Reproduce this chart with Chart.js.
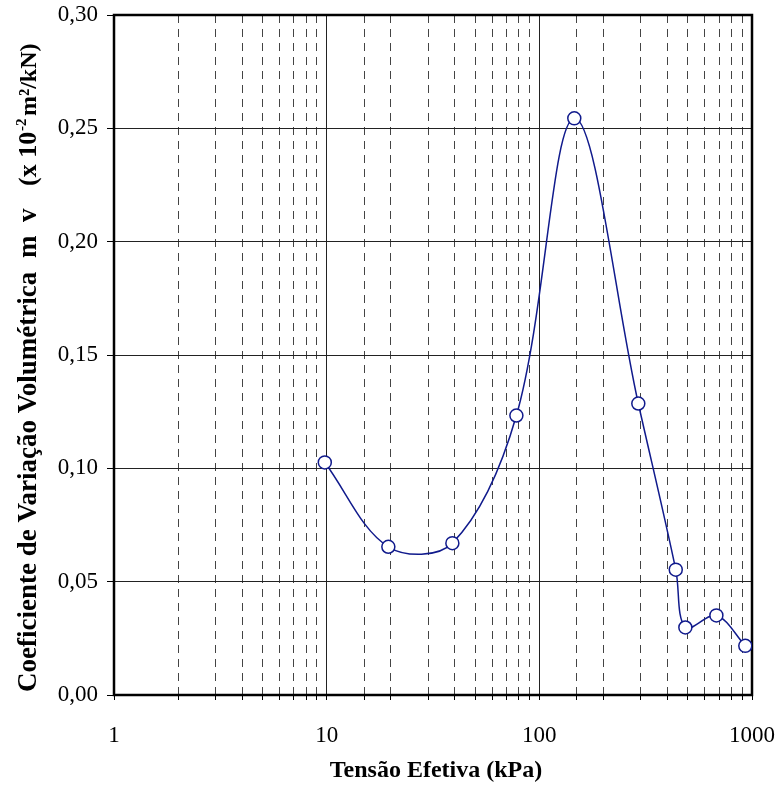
<!DOCTYPE html>
<html lang="pt">
<head>
    <meta charset="UTF-8">
    <title>Coeficiente de Variação Volumétrica</title>
    <script src="https://cdn.jsdelivr.net/npm/chart.js"></script>
    <style>
        body {
            margin: 0;
            padding: 0;
            background: #fff;
        }
        #wrap {
            width: 778px;
            height: 786px;
        }
    </style>
</head>
<body>
    <div id="wrap">
        <canvas id="mvChart" width="778" height="786"></canvas>
    </div>

    <script>
        // Tensão efetiva (kPa) e mv (x 10^-2 m²/kN)
        const tensao = [9.8, 19.5, 39, 78, 146, 292, 438, 486, 680, 930];
        const mv = [0.1026, 0.0654, 0.0670, 0.1233, 0.2544, 0.1286, 0.0553, 0.0298, 0.0351, 0.0217];
        const xLabels = [1, 10, 100, 1000];
        const yTicks = [0, 0.05, 0.10, 0.15, 0.20, 0.25, 0.30];

        const serif = "'Liberation Serif', 'Times New Roman', serif";
        const lineColor = '#101a8c';

        const points = tensao.map((t, i) => ({ x: t, y: mv[i] }));

        function isDecade(v) {
            const l = Math.log10(v);
            return Math.abs(l - Math.round(l)) < 1e-9;
        }

        // moldura e títulos dos eixos
        const extras = {
            id: 'extras',
            beforeDatasetsDraw(chart) {
                const { ctx, chartArea: a } = chart;
                ctx.save();
                ctx.strokeStyle = '#000';
                ctx.lineWidth = 2.5;
                ctx.strokeRect(a.left, a.top, a.right - a.left, a.bottom - a.top);
                ctx.restore();
            },
            afterDraw(chart) {
                const { ctx } = chart;
                ctx.save();
                ctx.fillStyle = '#000';

                // título eixo x
                ctx.font = 'bold 24px ' + serif;
                ctx.textAlign = 'center';
                ctx.textBaseline = 'middle';
                ctx.fillText('Tensão Efetiva (kPa)', 436, 771);

                // título eixo y (rodado), cada pedaço na sua posição
                ctx.translate(36, 692);
                ctx.rotate(-Math.PI / 2);
                ctx.textAlign = 'left';
                ctx.textBaseline = 'alphabetic';
                const parts = [
                    ['Coeficiente de Variação Volumétrica', 0, 0, 27],
                    ['m', 434, 0, 27],
                    ['v', 470, 0, 27],
                    ['(x 10', 506, 0, 26],
                    ['-2', 561, -10, 15],
                    ['m²/kN)', 576, 0, 24]
                ];
                parts.forEach(([txt, x, dy, size]) => {
                    ctx.font = 'bold ' + size + 'px ' + serif;
                    ctx.fillText(txt, x, dy);
                });
                ctx.restore();
            }
        };

        const ctx = document.getElementById('mvChart').getContext('2d');
        new Chart(ctx, {
            type: 'line',
            data: {
                datasets: [{
                    data: points,
                    borderColor: lineColor,
                    borderWidth: 1.5,
                    tension: 0.35,
                    pointRadius: 6.5,
                    pointBorderWidth: 1.5,
                    pointBackgroundColor: '#fff',
                    pointBorderColor: lineColor,
                    fill: false
                }]
            },
            options: {
                responsive: false,
                animation: false,
                layout: {
                    padding: { left: 0, right: 26, top: 15, bottom: 0 }
                },
                plugins: {
                    legend: { display: false },
                    tooltip: { enabled: false }
                },
                scales: {
                    x: {
                        type: 'logarithmic',
                        min: 1,
                        max: 1000,
                        afterFit: s => {
                            s.height = 91;
                            s.paddingLeft = 0;
                            s.paddingRight = 0;
                        },
                        grid: {
                            color: c => isDecade(c.tick.value) ? '#222' : '#444',
                            lineWidth: 1,
                            tickLength: 5,
                            tickColor: '#000'
                        },
                        border: {
                            display: false,
                            dash: c => (c.tick && !isDecade(c.tick.value)) ? [8, 6] : []
                        },
                        ticks: {
                            autoSkip: false,
                            maxRotation: 0,
                            padding: 22,
                            color: '#000',
                            font: { family: serif, size: 23 },
                            callback: v => xLabels.includes(v) ? String(v) : ''
                        }
                    },
                    y: {
                        min: 0,
                        max: 0.3,
                        afterFit: s => {
                            s.width = 114;
                            s.paddingTop = 0;
                            s.paddingBottom = 0;
                        },
                        afterBuildTicks: s => { s.ticks = yTicks.map(v => ({ value: v })); },
                        grid: {
                            color: '#222',
                            lineWidth: 1,
                            tickLength: 7,
                            tickColor: '#000'
                        },
                        border: { display: false },
                        ticks: {
                            padding: 9,
                            color: '#000',
                            font: { family: serif, size: 23 },
                            callback: v => v.toFixed(2).replace('.', ',')
                        }
                    }
                }
            },
            plugins: [extras]
        });
    </script>
</body>
</html>
